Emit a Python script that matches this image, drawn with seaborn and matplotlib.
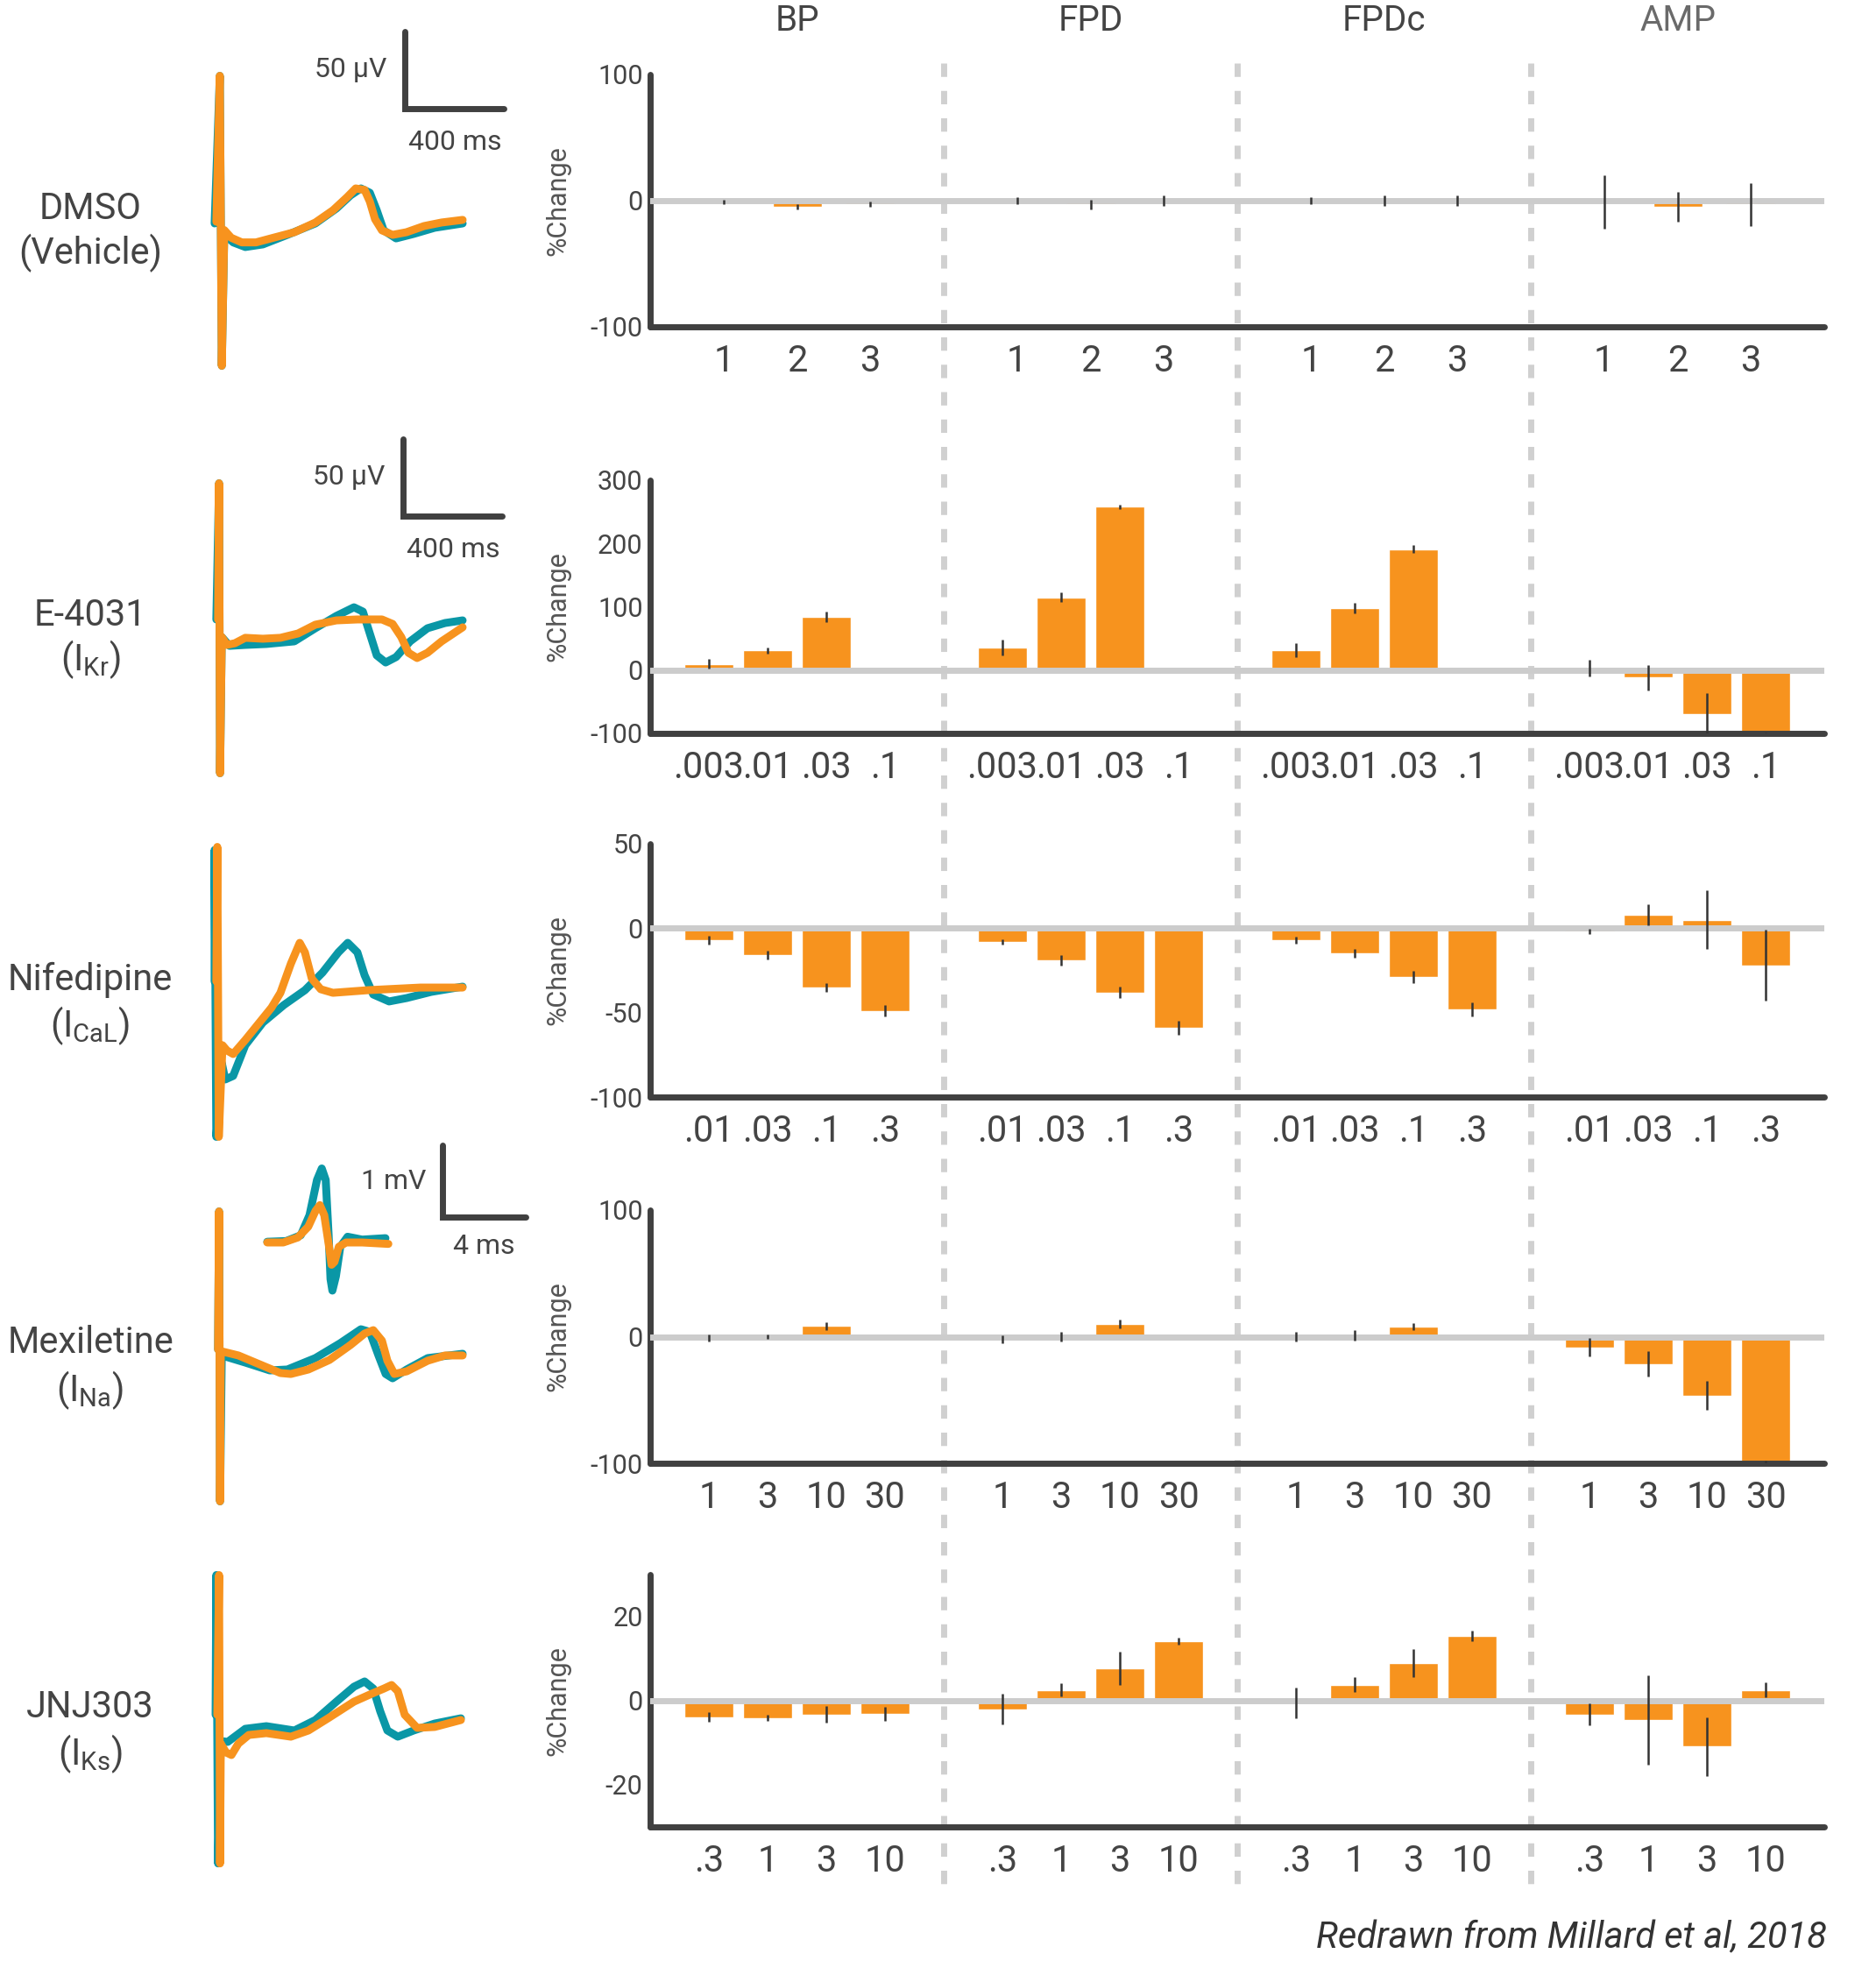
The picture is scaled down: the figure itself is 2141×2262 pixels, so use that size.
import numpy as np
import pandas as pd
import matplotlib
matplotlib.use("Agg")
import matplotlib.pyplot as plt
import matplotlib.transforms as mtransforms
from matplotlib.lines import Line2D
import seaborn as sns

# ---------------- bar data (% change, mean and sem) ----------------
measures = ["BP", "FPD", "FPDc", "AMP"]
nan = np.nan

dmso_doses = ["1", "2", "3"]
dmso_mean = [[-1, -5, -3], [0, -3, 0], [0, 0, 0], [-1, -5, -3]]
dmso_err = [[2, 2, 2], [3, 4, 4], [3, 4, 4], [21, 12, 17]]

e4031_doses = [".003", ".01", ".03", ".1"]
e4031_mean = [[10, 31, 84, nan], [35, 115, 258, nan], [31, 98, 191, nan], [3, -12, -70, -99]]
e4031_err = [[8, 4.5, 8.5, nan], [12.5, 8, 3, nan], [11, 8, 6.5, nan], [13, 20, 34, 1]]

nifed_doses = [".01", ".03", ".1", ".3"]
nifed_mean = [[-7, -16, -35, -49], [-8, -19, -38, -59], [-7, -15, -29, -48], [-2, 8, 5, -22]]
nifed_err = [[2.5, 2.5, 2.5, 3.5], [1.5, 3, 3.2, 4.2], [2, 2.7, 3.5, 4], [1.7, 6.3, 17.5, 21]]

mexil_doses = ["1", "3", "10", "30"]
mexil_mean = [[-1, 0, 8.5, nan], [-2, 0, 10, nan], [0, 1, 8, nan], [-8.5, -21.5, -46.5, -99]]
mexil_err = [[2.5, 1.6, 3, nan], [3.2, 3.7, 3.6, nan], [3.8, 3.9, 2.8, nan], [7.4, 10, 11.3, 1]]

jnj_doses = [".3", "1", "3", "10"]
jnj_mean = [[-3.9, -4.1, -3.3, -3.1], [-2, 2.6, 7.7, 14.1], [-0.5, 3.8, 9, 15.4], [-3.3, -4.6, -10.9, 2.6]]
jnj_err = [[1.1, 0.7, 2, 1.6], [3.6, 1.6, 3.9, 0.8], [3.7, 1.75, 3.3, 1.2], [2.6, 10.7, 7, 1.8]]

# ---------------- field potential traces (t in ms, v in uV) ----------------
dmso_ctrl_t = [-25, -4, 4, 14, 50, 99, 170, 269, 382, 467, 524, 566, 602, 630, 658, 708, 779, 864, 977]
dmso_ctrl_v = [-1.7, 94, -94, -8.5, -14, -17, -15.3, -9.1, -1.7, 8, 16.5, 21, 18.2, 6.8, -6.2, -11.4, -8.5, -4.5, -1.7]
dmso_drug_t = [-18, -4, 4, 14, 42, 85, 142, 212, 297, 382, 453, 510, 545, 581, 602, 623, 651, 694, 750, 821, 892, 977]
dmso_drug_v = [-0.6, 94, -94, -6, -11, -14, -14, -11, -7.4, -1.1, 6.8, 15.3, 21, 20, 12.5, 1.1, -6.2, -9.1, -7.4, -3.4, -1.1, 0.6]

e4031_ctrl_t = [-11, 0, 4, 11, 42, 106, 191, 304, 389, 474, 545, 581, 609, 637, 673, 715, 772, 842, 913, 984]
e4031_ctrl_v = [5.7, 94, -94, -5.7, -11.4, -10.8, -10.2, -8.5, 0, 8, 13.6, 10.8, -3.4, -17.6, -22.2, -18.7, -8.5, 0, 3.4, 5.1]
e4031_drug_t = [-4, 0, 4, 11, 32, 64, 106, 177, 248, 319, 389, 474, 559, 658, 701, 736, 765, 800, 842, 899, 984]
e4031_drug_v = [5.7, 94, -94, -5.7, -10.8, -9.7, -6.2, -6.8, -6.2, -3.4, 2.3, 5.1, 5.7, 5.7, 2.8, -5.7, -15.9, -19.3, -15.9, -8.5, 0.6]

nifed_ctrl_t = [-11, -11, -4, 18, 32, 64, 113, 184, 269, 354, 425, 489, 527, 566, 595, 630, 694, 765, 864, 991]
nifed_ctrl_v = [6.8, 92, -94, -46, -56.8, -54.5, -34.6, -19.9, -8.5, 1.1, 12.5, 25.6, 31.8, 25.6, 10.8, -1.7, -6.2, -4, 0, 3.4]
nifed_drug_t = [-4, 0, 6, 21, 39, 64, 113, 170, 219, 255, 297, 333, 354, 382, 418, 467, 609, 821, 991]
nifed_drug_v = [6.8, 94, -94, -34.6, -38, -40.3, -31.2, -19.9, -10.2, -0.6, 18.2, 31.8, 25.6, 8.5, 1.7, -0.6, 1.1, 2.8, 2.8]

mexil_ctrl_t = [-4, 0, 4, 11, 106, 205, 276, 389, 489, 573, 609, 644, 673, 701, 758, 843, 984]
mexil_ctrl_v = [4.5, 94, -94, 0.6, -4, -9.1, -8.5, -1.1, 8.5, 17.6, 15.9, 0.6, -11.4, -14.2, -8.5, -1.1, 1.7]
mexil_drug_t = [-4, 0, 4, 7, 78, 163, 248, 290, 361, 446, 531, 588, 623, 658, 680, 708, 758, 843, 913, 984]
mexil_drug_v = [4.5, 94, -94, 3.4, 0.6, -5.1, -10.8, -11.4, -8.5, -2.3, 7.4, 14.8, 17, 10.2, -2.8, -11.4, -9.7, -2.8, 0.6, 0.6]

# sodium spike inset (t in ms, v in mV)
spike_ctrl_t = [0, 0.91, 1.61, 2.03, 2.39, 2.62, 2.81, 2.95, 3.04, 3.13, 3.3, 3.51, 3.86, 4.56, 5.68]
spike_ctrl_v = [0.01, 0.02, 0.1, 0.38, 0.87, 1.03, 0.87, 0.1, -0.51, -0.67, -0.47, -0.06, 0.08, 0.04, 0.06]
spike_drug_t = [0, 0.77, 1.47, 1.97, 2.32, 2.53, 2.74, 2.95, 3.09, 3.23, 3.44, 3.79, 4.56, 5.82]
spike_drug_v = [0, 0, 0.07, 0.22, 0.44, 0.52, 0.38, -0.02, -0.31, -0.27, -0.06, 0, 0, -0.02]

jnj_ctrl_t = [-14, -11, -4, 7, 35, 106, 191, 304, 389, 474, 545, 588, 623, 651, 680, 722, 786, 871, 977]
jnj_ctrl_v = [3.4, 94, -93, -13.6, -14.2, -5.7, -4, -6.8, 0, 11.9, 21.6, 25, 20.4, 5.7, -6.8, -10.8, -6.8, -2.3, 1.1]
jnj_drug_t = [-7, 0, 4, 7, 28, 50, 78, 120, 191, 290, 361, 446, 545, 616, 666, 697, 722, 750, 800, 871, 977]
jnj_drug_v = [3.4, 94, -93, -15.3, -21, -22.7, -15.3, -9.7, -8.5, -10.8, -6.8, 1.7, 11.9, 17, 20.4, 22.7, 18.7, 3.4, -5.1, -4.5, 0]

drug_names = ["DMSO", "E-4031", "Nifedipine", "Mexiletine", "JNJ303"]
drug_targets = ["(Vehicle)", r"(I$_{\mathrm{Kr}}$)", r"(I$_{\mathrm{CaL}}$)", r"(I$_{\mathrm{Na}}$)", r"(I$_{\mathrm{Ks}}$)"]

# ---------------- style ----------------
ORANGE = "#f7931e"
TEAL = "#0a97a6"
DARK = "#404040"
TXT = "#444444"
ZERO = "#cccccc"

sns.set_theme(style="white")
plt.rcParams["font.family"] = ["Roboto", "DejaVu Sans"]
plt.rcParams["mathtext.fontset"] = "custom"
plt.rcParams["mathtext.rm"] = "Roboto"
plt.rcParams["mathtext.it"] = "Roboto:italic"
plt.rcParams["axes.unicode_minus"] = False

W, H = 2141, 2262
fig = plt.figure(figsize=(W / 100, H / 100), dpi=100)


def rect(l, t, r, b):
    return [l / W, 1 - b / H, (r - l) / W, (b - t) / H]


# ---------------- bar panels ----------------
bar_rows = [
    (dmso_doses, dmso_mean, dmso_err, (-100, 100), [-100, 0, 100], (85, 373)),
    (e4031_doses, e4031_mean, e4031_err, (-100, 300), [-100, 0, 100, 200, 300], (548, 837)),
    (nifed_doses, nifed_mean, nifed_err, (-100, 50), [-100, -50, 0, 50], (963, 1252)),
    (mexil_doses, mexil_mean, mexil_err, (-100, 100), [-100, 0, 100], (1381, 1670)),
    (jnj_doses, jnj_mean, jnj_err, (-30, 30), [-20, 0, 20], (1797, 2085)),
]

bar_axes = []
for doses, means, errs, ylim, yticks, (top, bot) in bar_rows:
    ax = fig.add_axes(rect(742, top, 2082, bot))
    ax.set_facecolor("none")
    n = len(doses)
    gw = n + 1
    recs = []
    for g in range(len(measures)):
        for k in range(n):
            recs.append({"pos": g * gw + k + 1, "val": means[g][k], "err": errs[g][k]})
    df = pd.DataFrame(recs)
    valid = df.dropna()
    sns.barplot(data=valid, x="pos", y="val", native_scale=True, width=56 / (1340 / (4 * gw)),
                color=ORANGE, saturation=1, errorbar=None, ax=ax, zorder=2)
    ax.axhline(0, color=ZERO, lw=5, zorder=3)
    ax.errorbar(valid["pos"], valid["val"], yerr=valid["err"], fmt="none",
                ecolor="#333333", elinewidth=1.8, capsize=0, zorder=4)
    ax.set_xlim(0, 4 * gw)
    ax.set_ylim(*ylim)
    ax.set_yticks(yticks)
    ax.set_yticklabels([str(v) for v in yticks])
    ax.set_xticks(df["pos"])
    ax.set_xticklabels(doses * len(measures))
    ax.set_xlabel("")
    ax.set_ylabel("%Change", fontsize=22, color="#555555")
    ax.yaxis.set_label_coords(-0.068, 0.5)
    for s in ["top", "right"]:
        ax.spines[s].set_visible(False)
    for s in ["left", "bottom"]:
        ax.spines[s].set_linewidth(5)
        ax.spines[s].set_color(DARK)
        ax.spines[s].set_capstyle("round")
    ax.tick_params(axis="x", length=0, pad=14, labelsize=30, labelcolor=TXT)
    ax.tick_params(axis="y", length=0, pad=6, labelsize=22, labelcolor=TXT)
    bar_axes.append(ax)

# group titles
ax0 = bar_axes[0]
for g, m in enumerate(measures):
    ax0.text(g * 4 + 2, 1.215, m, transform=ax0.get_xaxis_transform(), ha="center", va="center",
             fontsize=29, color="#6a6a6a" if m == "AMP" else TXT)

# dashed separators spanning all rows
sep_tr = mtransforms.blended_transform_factory(bar_axes[-1].transAxes, fig.transFigure)
for xs in [0.25, 0.5, 0.75]:
    fig.add_artist(Line2D([xs, xs], [1 - 72 / H, 1 - 2164 / H], transform=sep_tr, color="#d0d0d0",
                          lw=5, linestyle=(0, (2.2, 2.3)), zorder=-1))

# ---------------- traces ----------------
PX_MS, PX_UV = 113 / 400, 88 / 50
traces = [
    (dmso_ctrl_t, dmso_ctrl_v, dmso_drug_t, dmso_drug_v),
    (e4031_ctrl_t, e4031_ctrl_v, e4031_drug_t, e4031_drug_v),
    (nifed_ctrl_t, nifed_ctrl_v, nifed_drug_t, nifed_drug_v),
    (mexil_ctrl_t, mexil_ctrl_v, mexil_drug_t, mexil_drug_v),
    (jnj_ctrl_t, jnj_ctrl_v, jnj_drug_t, jnj_drug_v),
]
spike_x = [252, 250, 248, 250, 250]
base_y = [252, 717, 1132, 1548, 1963]
label_y = [(238, 289), (703, 753), (1118, 1171), (1533, 1587), (1948, 2002)]
T0, T1, V0, V1 = -100, 1300, -110, 110


def trace_pair(ax, ct, cv, dt, dv):
    ax.plot(ct, cv, color=TEAL, lw=6.5, solid_capstyle="round", solid_joinstyle="round", clip_on=False)
    ax.plot(dt, dv, color=ORANGE, lw=6.5, solid_capstyle="round", solid_joinstyle="round", clip_on=False)


def scale_bar(ax, x0, y0, dx, dy, lx, ly, tx, ty):
    ax.plot([x0, x0, x0 + dx], [y0 + dy, y0, y0], color=DARK, lw=5, solid_capstyle="round",
            solid_joinstyle="miter", clip_on=False)
    ax.text(lx[0], lx[1], ly, ha="right", va="center", fontsize=23, color=TXT)
    ax.text(tx[0], tx[1], ty, ha="center", va="center", fontsize=23, color=TXT)


for i, (ct, cv, dt, dv) in enumerate(traces):
    l = spike_x[i] + T0 * PX_MS
    r = spike_x[i] + T1 * PX_MS
    t = base_y[i] - V1 * PX_UV
    b = base_y[i] - V0 * PX_UV
    ax = fig.add_axes(rect(l, t, r, b))
    ax.set_xlim(T0, T1)
    ax.set_ylim(V0, V1)
    ax.axis("off")
    trace_pair(ax, ct, cv, dt, dv)
    if i < 2:
        scale_bar(ax, 745, 73, 400, 50, (670, 98), "50 µV", (945, 51), "400 ms")
    fig.text(103 / W, 1 - label_y[i][0] / H, drug_names[i], ha="center", va="center", fontsize=30, color=TXT)
    fig.text(103 / W, 1 - label_y[i][1] / H, drug_targets[i], ha="center", va="center", fontsize=30, color=TXT)

# sodium spike inset for mexiletine
PX_MSI, PX_MV = 95 / 4, 82 / 1
ax = fig.add_axes(rect(305 - 1 * PX_MSI, 1418 - 1.8 * PX_MV, 305 + 13 * PX_MSI, 1418 + 1.0 * PX_MV))
ax.set_xlim(-1, 13)
ax.set_ylim(-1, 1.8)
ax.axis("off")
trace_pair(ax, spike_ctrl_t, spike_ctrl_v, spike_drug_t, spike_drug_v)
scale_bar(ax, 8.42, 0.354, 4, 1, (7.62, 0.85), "1 mV", (10.42, -0.05), "4 ms")

fig.text(2085 / W, 1 - 2212 / H, "Redrawn from Millard et al, 2018", ha="right", va="center",
         fontsize=30, style="italic", color="#333333")

fig.savefig("out.png", dpi=100)
